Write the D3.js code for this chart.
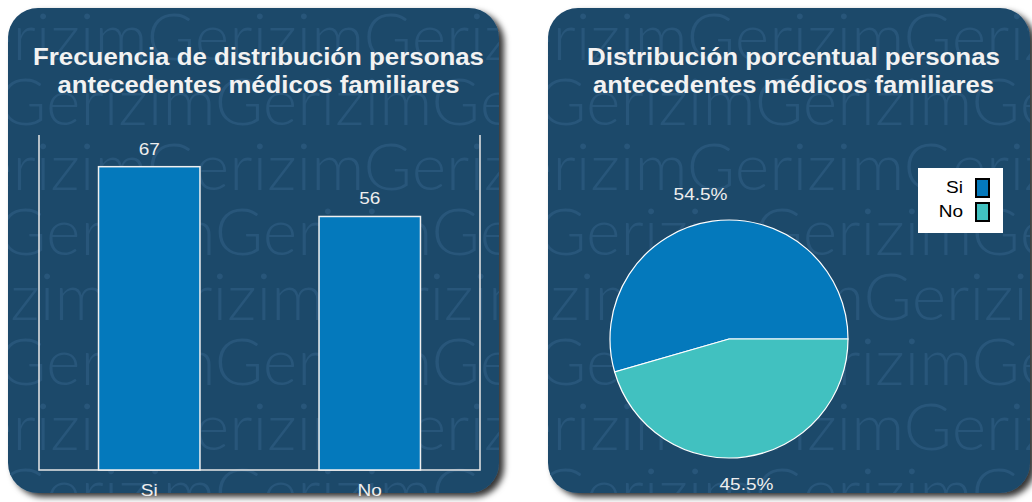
<!DOCTYPE html>
<html>
<head>
<meta charset="utf-8">
<script src="https://d3js.org/d3.v7.min.js"></script>
<style>
  body { margin: 0; background: #ffffff; }
  svg { display: block; font-family: "Liberation Sans", Arial, sans-serif; }
</style>
</head>
<body>
<div class="wrapper"></div>
<script>
// data
var categories = ["Si", "No"];
var counts = [67, 56];
var percentLabels = ["54.5%", "45.5%"];
var barTitle = ["Frecuencia de distribución personas", "antecedentes médicos familiares"];
var pieTitle = ["Distribución porcentual personas", "antecedentes médicos familiares"];

var W = 1032, H = 502;
var bg = "#1f4a6b", wm = "#28567a";
var barColor = "#0479bc";
var pieColors = ["#0479bc", "#41c1c0"];

var svg = d3.select(".wrapper").append("svg")
  .attr("width", W).attr("height", H);

var defs = svg.append("defs");
var f = defs.append("filter").attr("id", "shadow")
  .attr("x", "-5%").attr("y", "-5%").attr("width", "115%").attr("height", "115%");
f.append("feDropShadow").attr("dx", 5).attr("dy", 4).attr("stdDeviation", 3)
  .attr("flood-color", "#000").attr("flood-opacity", 0.8);

// panels
var panels = [
  {x: 8, y: 8, w: 491, h: 485, id: "p1"},
  {x: 548, y: 8, w: 482, h: 485, id: "p2"}
];

panels.forEach(function(p, i) {
  defs.append("clipPath").attr("id", "clip" + p.id)
    .append("rect").attr("x", p.x).attr("y", p.y).attr("width", p.w).attr("height", p.h)
    .attr("rx", 30).attr("ry", 30);
  svg.append("rect")
    .attr("x", p.x).attr("y", p.y).attr("width", p.w).attr("height", p.h)
    .attr("rx", 30).attr("ry", 30)
    .attr("fill", bg).attr("filter", "url(#shadow)");
  // watermark
  var g = svg.append("g").attr("clip-path", "url(#clip" + p.id + ")");
  var rows = [
    {y: 60, dx: -78}, {y: 125, dx: -10}, {y: 190, dx: -78}, {y: 255, dx: -10},
    {y: 320, dx: -118}, {y: 385, dx: -10}, {y: 450, dx: -78}, {y: 515, dx: -10}
  ];
  rows.forEach(function(r) {
    g.append("text")
      .attr("x", p.x + r.dx).attr("y", r.y)
      .attr("fill", wm)
      .style("font-family", "Lato, 'Noto Sans', sans-serif")
      .style("font-weight", 300)
      .style("font-size", "66px")
      .text("GerizimGerizimGerizim");
  });
});

// titles: the reference text is a bit wide, so fit each line to its measured width
function title(lines, widths, cx) {
  var t = svg.append("text")
    .attr("text-anchor", "middle")
    .attr("fill", "#f2f2f2")
    .style("font-size", "23px").style("font-weight", "bold");
  lines.forEach(function(l, i) {
    t.append("tspan")
      .attr("x", cx).attr("y", 65 + i * 28)
      .attr("textLength", widths[i]).attr("lengthAdjust", "spacingAndGlyphs")
      .text(l);
  });
}
title(barTitle, [451, 402], 258.5);
title(pieTitle, [413, 401], 793.5);

// wide label helper
function wideText(parent, px, py, str, anchor, fill) {
  return parent.append("text")
    .attr("transform", "translate(" + px + "," + py + ") scale(1.12,1)")
    .attr("text-anchor", anchor || "middle")
    .attr("dy", "0.35em")
    .attr("fill", fill || "#eeeeee")
    .style("font-size", "17px")
    .text(str);
}

// ---- bar chart
var x = d3.scaleBand().domain(categories).range([39, 480])
  .paddingInner(0.54).paddingOuter(0.27);
var y = d3.scaleLinear().domain([0, 74]).range([470, 135]);

var axisColor = "#e6e6e6";
svg.append("path")
  .attr("d", d3.line()([[x.range()[0], y(74)], [x.range()[0], y(0)], [x.range()[1], y(0)], [x.range()[1], y(74)]]))
  .attr("fill", "none").attr("stroke", axisColor).attr("stroke-width", 1.5);

var data = categories.map(function(c, i) { return {cat: c, v: counts[i]}; });

svg.selectAll(".bar").data(data).enter().append("rect")
  .attr("class", "bar")
  .attr("x", function(d) { return x(d.cat); })
  .attr("y", function(d) { return y(d.v); })
  .attr("width", x.bandwidth())
  .attr("height", function(d) { return y(0) - y(d.v); })
  .attr("fill", barColor).attr("stroke", "#f0f0f0").attr("stroke-width", 1.5);

data.forEach(function(d) {
  var bx = x(d.cat) + x.bandwidth() / 2;
  wideText(svg, bx, y(d.v) - 18, d.v);
  wideText(svg, bx, 490, d.cat);
});

// ---- pie chart
var cx = 729, cy = 339, r = 119;
// counterclockwise from 3 o'clock
var pie = d3.pie().sort(null)
  .startAngle(Math.PI / 2).endAngle(Math.PI / 2 - 2 * Math.PI);
var arcs = pie(counts);
var arc = d3.arc().innerRadius(0).outerRadius(r);
var labelArc = d3.arc().innerRadius(146).outerRadius(146);

var pg = svg.append("g").attr("transform", "translate(" + cx + "," + cy + ")");
pg.selectAll("path").data(arcs).enter().append("path")
  .attr("d", arc)
  .attr("fill", function(d, i) { return pieColors[i]; })
  .attr("stroke", "#ffffff").attr("stroke-width", 1.2);

arcs.forEach(function(d, i) {
  var c = labelArc.centroid(d);
  wideText(pg, c[0] - (i === 0 ? 8 : 3), c[1], percentLabels[i]);
});

// legend
var lg = svg.append("g").attr("transform", "translate(918,168)");
lg.append("rect").attr("width", 85).attr("height", 65).attr("fill", "#ffffff");
categories.forEach(function(c, i) {
  wideText(lg, 45, 19 + i * 24, c, "end", "#000");
  lg.append("rect").attr("x", 58).attr("y", 11 + i * 24)
    .attr("width", 13).attr("height", 18)
    .attr("fill", pieColors[i]).attr("stroke", "#000").attr("stroke-width", 2);
});
</script>
</body>
</html>
